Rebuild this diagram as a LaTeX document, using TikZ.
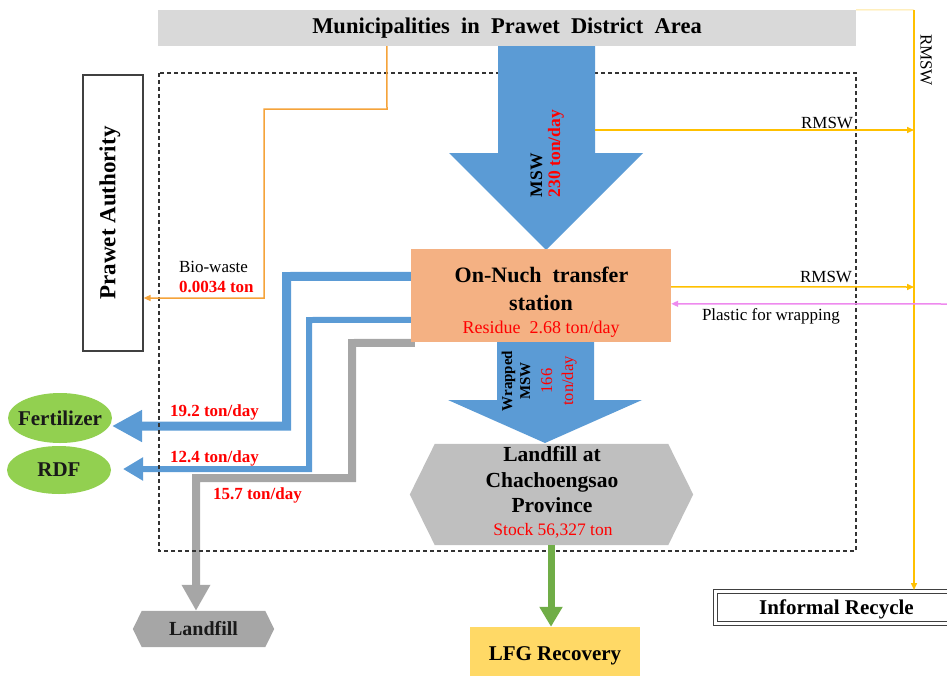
\documentclass[tikz,border=0pt]{standalone}
\usepackage{fontspec}
\setmainfont{Liberation Serif}
\usetikzlibrary{arrows.meta,shapes.geometric}
\definecolor{flowblue}{HTML}{5B9BD5}
\definecolor{headgray}{HTML}{D9D9D9}
\definecolor{hexgray}{HTML}{BFBFBF}
\definecolor{pipegray}{HTML}{A6A6A6}
\definecolor{salmon}{HTML}{F4B183}
\definecolor{leafgreen}{HTML}{92D050}
\definecolor{flowgreen}{HTML}{70AD47}
\definecolor{lfgyellow}{HTML}{FFD966}
\definecolor{bioorange}{HTML}{F5A33A}
\definecolor{rmswyellow}{HTML}{FFC000}
\definecolor{paleyellow}{HTML}{FFE699}
\definecolor{wrappink}{HTML}{EE8AEE}
\definecolor{numred}{HTML}{FF0000}
\definecolor{edgegray}{HTML}{404040}
\newcommand\fsz[2]{\fontsize{#1}{#2}\selectfont}
\begin{document}
\begin{tikzpicture}[x=1pt,y=-1pt,
  txt/.style={inner sep=0pt, outer sep=0pt},
  pipe/.style={line join=miter, line cap=butt},
  thinflow/.style={line width=1.5pt, -{Triangle[length=7pt,width=6pt]}},
  bold17/.style={font=\bfseries\fsz{17pt}{20pt}},
  reg17/.style={font=\fsz{17pt}{20pt}},
  leaf/.style={ellipse, fill=leafgreen, inner sep=0pt, outer sep=0pt},
  leaftext/.style={txt, font=\bfseries\fsz{21pt}{25pt}, text=black!90}]
\useasboundingbox (0,0) rectangle (947,675);

% ---------- boxes ----------
\node[fill=headgray, minimum width=698pt, minimum height=36pt, inner sep=0pt,
      font=\bfseries\fsz{22.5pt}{26pt}] (muni) at (507,28)
      {Municipalities\ \ in\ \ Prawet\ \ District\ \ Area};

\node[draw=edgegray, line width=1.2pt, minimum width=60pt, minimum height=276pt,
      inner sep=0pt] (prawet) at (113,213) {};
\node[txt, rotate=90, font=\bfseries\fsz{23pt}{27pt}] (prawettext) at (110,213) {Prawet Authority};

\node[leaf, minimum width=104pt, minimum height=50pt] (fert) at (60,418) {};
\node[leaftext] (ferttext) at (fert.center) {Fertilizer};
\node[leaf, minimum width=104pt, minimum height=48pt] (rdf) at (59,470) {};
\node[leaftext] (rdftext) at (rdf.center) {RDF};

\node[minimum width=141pt, minimum height=36pt, inner sep=0pt] (lf) at (203.5,629) {};
\node[minimum width=283pt, minimum height=101pt, inner sep=0pt] (lfc) at (551.5,494.5) {};
\node[fill=lfgyellow, minimum width=170pt, minimum height=58pt, inner sep=0pt,
      font=\bfseries\fsz{21pt}{25pt}] (lfg) at (555,656) {LFG Recovery};
\node[draw=edgegray, line width=1pt, double=white, double distance=3pt,
      minimum width=242pt, minimum height=32pt, inner sep=0pt] (recycle) at (836.5,607.5) {};
\node[txt, anchor=base, font=\bfseries\fsz{21pt}{25pt}] (recycletext) at (836.5,614) {Informal Recycle};
\node[minimum width=260pt, minimum height=93pt, inner sep=0pt] (station) at (541,295.5) {};

% ---------- outflows to the left ----------
\draw[pipe, flowblue, line width=9pt, -{Triangle[length=30pt,width=30pt]}]
  ([yshift=-27.5pt,xshift=4pt]station.north west) -- (286.5,276.5) -- (286.5,426)
  -- ([yshift=-8pt]fert.east);
\draw[pipe, flowblue, line width=6pt, -{Triangle[length=20pt,width=22pt]}]
  ([yshift=-71pt,xshift=4pt]station.north west) -- (309,320) -- (309,469)
  -- ([xshift=12pt,yshift=1pt]rdf.east);
\draw[pipe, pipegray, line width=8pt, -{Triangle[length=26pt,width=27pt]}]
  ([yshift=-94pt,xshift=4pt]station.north west) -- (352,343) -- (352,478) -- (196,478)
  -- ([xshift=-7.5pt]lf.north);

% system boundary
\draw[edgegray!80!black, line width=1.2pt, dash pattern=on 4pt off 3pt]
  (159,73) rectangle (856,551);

% ---------- shapes ----------
\fill[pipegray] (lf.west) -- ([xshift=9pt]lf.north west) -- ([xshift=-9pt]lf.north east)
  -- (lf.east) -- ([xshift=-9pt]lf.south east) -- ([xshift=9pt]lf.south west) -- cycle;
\node[txt, font=\bfseries\fsz{20pt}{24pt}, text=black!90] (lftext) at (lf.center) {Landfill};

\fill[hexgray] (lfc.west) -- ([xshift=25pt]lfc.north west) -- ([xshift=-25pt]lfc.north east)
  -- (lfc.east) -- ([xshift=-25pt]lfc.south east) -- ([xshift=25pt]lfc.south west) -- cycle;
\node[txt, anchor=base, font=\bfseries\fsz{21.5pt}{25pt}] (lfc1) at (552,461) {Landfill at};
\node[txt, anchor=base, font=\bfseries\fsz{21.5pt}{25pt}] (lfc2) at (552,487) {Chachoengsao};
\node[txt, anchor=base, font=\bfseries\fsz{21.5pt}{25pt}] (lfc3) at (552,512) {Province};
\node[txt, anchor=base, font=\fsz{17.5pt}{21pt}, text=numred] (lfc4) at (553,535) {Stock 56,327 ton};

% MSW inflow
\fill[flowblue] (498,46) -- (595,46) -- (595,153) -- (643,153) -- (546,250)
  -- (449,153) -- (498,153) -- cycle;
\node[txt, rotate=90, anchor=base west, font=\bfseries\fsz{17.5pt}{21pt}] (mswt) at (542,197) {MSW};
\node[txt, rotate=90, anchor=base west, font=\bfseries\fsz{17.5pt}{21pt}, text=numred] (mswq) at (560,197) {230 ton/day};

% transfer station
\fill[salmon] (station.north west) rectangle (station.south east);
\node[txt, anchor=base, font=\bfseries\fsz{22pt}{26pt}] (st1) at (541.5,282) {On-Nuch\ \ transfer};
\node[txt, anchor=base, font=\bfseries\fsz{22pt}{26pt}] (st2) at (541,310) {station};
\node[txt, anchor=base, font=\fsz{18pt}{22pt}, text=numred] (st3) at (541,333) {Residue\ \ 2.68 ton/day};

% wrapped MSW to landfill
\fill[flowblue] (497,342) -- (594,342) -- (594,400) -- (642,400) -- (545,443)
  -- (448,400) -- (497,400) -- cycle;
\node[txt, rotate=90, align=center, font=\bfseries\fsz{15pt}{18pt}] (wrt) at (516,381) {Wrapped\\MSW};
\node[txt, rotate=90, align=center, font=\fsz{16.5pt}{21pt}, text=numred] (wrq) at (559,381) {166\\ton/day};

% landfill gas recovery
\draw[pipe, flowgreen, line width=7pt, -{Triangle[length=20pt,width=22pt]}]
  ([xshift=-0.5pt]lfc.south) -- ([xshift=-4pt]lfg.north);

% ---------- thin flows ----------
\draw[bioorange, line width=1.5pt, -{Triangle[length=7pt,width=6pt]}]
  ([xshift=229pt]muni.south west) -- (387,109) -- (264,109) -- (264,298)
  -- ([yshift=-85pt]prawet.east);
\draw[paleyellow, line width=1pt] (muni.north east) -- (914,10);
\draw[rmswyellow, thinflow] (914,10) -- ([xshift=77.5pt,yshift=1pt]recycle.north);
\draw[rmswyellow, thinflow] (595,130) -- (914,130);
\draw[rmswyellow, thinflow] ([yshift=-38pt]station.north east) -- (914,287);
\draw[wrappink, thinflow] (950,304) -- ([yshift=-55pt]station.north east);

% ---------- labels ----------
\node[txt, anchor=base west, reg17] (biol) at (179,272) {Bio-waste};
\node[txt, anchor=base west, bold17, text=numred] (bioq) at (179,292) {0.0034 ton};
\node[txt, anchor=base west, bold17, text=numred] (fq) at (170,416) {19.2 ton/day};
\node[txt, anchor=base west, bold17, text=numred] (rq) at (170,462) {12.4 ton/day};
\node[txt, anchor=base west, bold17, text=numred] (lq) at (213,499) {15.7 ton/day};
\node[txt, anchor=base east, reg17] (rm1) at (853,128) {RMSW};
\node[txt, anchor=base east, reg17] (rm2) at (852,282) {RMSW};
\node[txt, anchor=base west, reg17] (plast) at (702,320) {Plastic for wrapping};
\node[txt, rotate=-90, reg17] (rm3) at (926,60) {RMSW};
\end{tikzpicture}
\end{document}
